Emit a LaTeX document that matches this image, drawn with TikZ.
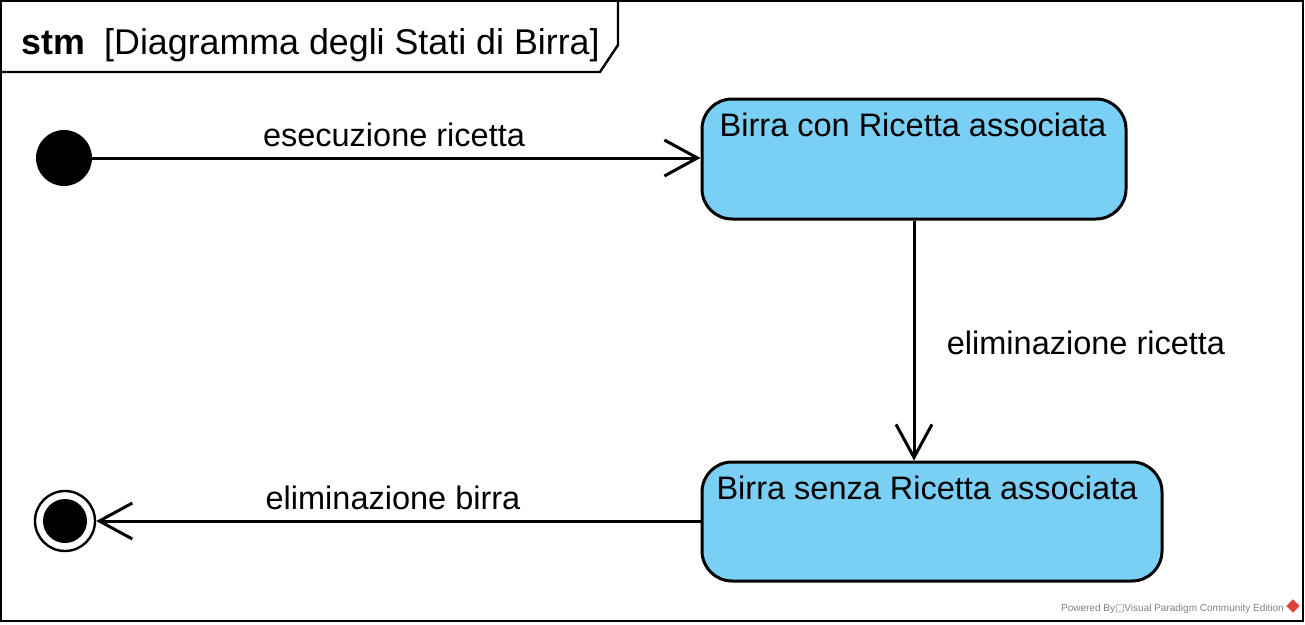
\documentclass[tikz,border=0pt]{standalone}
\usepackage{fontspec}
\setmainfont{Liberation Sans}
\newfontfamily\symfont{DejaVu Sans}
\usetikzlibrary{arrows.meta,calc}
\definecolor{statefill}{HTML}{7ACFF5}
\definecolor{wmgray}{HTML}{808080}
\definecolor{wmred}{HTML}{E0403A}
\begin{document}
\begin{tikzpicture}[x=1pt,y=-1pt,
  lbl/.style={font=\fontsize{32.5}{36}\selectfont, inner sep=0pt, anchor=base},
  titlefont/.style={font=\fontsize{35.8}{40}\selectfont},
  titlebold/.style={font=\fontsize{35.8}{40}\selectfont\bfseries},
  statebox/.style={draw=black, line width=3pt, fill=statefill, rounded corners=30pt, inner sep=0pt},
  trans/.style={line width=3pt, -{Straight Barb[length=33pt,width=36pt,line width=3pt]}},
  framestyle/.style={line width=2.4pt}
]
\useasboundingbox (0,0) rectangle (1305,624);
% frame
\draw[framestyle] (1.2,1.2) rectangle (1303,621);
\draw[framestyle] (1.2,72) -- (600,72) -- (618,45) -- (618,1.2);
\node[lbl, titlebold, anchor=base west] (stm) at (21,54) {stm};
\node[lbl, titlefont, anchor=base west] (title) at (104,54) {[Diagramma degli Stati di Birra]};
% states
\node[circle, fill=black, minimum size=56pt, inner sep=0pt] (init) at (64,158) {};
\node[statebox, minimum width=424pt, minimum height=120pt] (s1) at (914,159) {};
\node[lbl] (s1t) at (913,136) {Birra con Ricetta associata};
\node[statebox, minimum width=460pt, minimum height=119pt] (s2) at (932,521.5) {};
\node[lbl] (s2t) at (927,499) {Birra senza Ricetta associata};
\node[circle, draw=black, line width=2.4pt, fill=white, minimum size=60pt, inner sep=0pt] (fin) at (65,521) {};
\node[circle, fill=black, minimum size=44pt, inner sep=0pt] (finin) at (65,521) {};
% transitions
\draw[trans] (init.east) -- (init.east -| s1.west);
\draw[trans] (s1.south) -- (s1.south |- s2.north);
\draw[trans] (s2.west |- fin) -- (fin.east);
% labels
\node[lbl] (l1) at (394,146) {esecuzione ricetta};
\node[lbl] (l2) at (1086,354) {eliminazione ricetta};
\node[lbl] (l3) at (393,509) {eliminazione birra};
% watermark
\node[anchor=base east, inner sep=0pt, text=wmgray, font=\fontsize{10}{12}\selectfont] (wm) at (1284,611) {Powered By{\symfont □}Visual Paradigm Community Edition};
\node[draw=wmred, fill=wmred, rotate=45, minimum size=9pt, inner sep=0pt] (icon) at (1293,606) {};
\end{tikzpicture}
\end{document}
